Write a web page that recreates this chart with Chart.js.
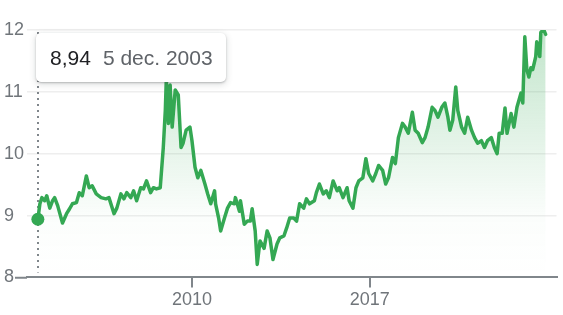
<!DOCTYPE html>
<html><head><meta charset="utf-8">
<script src="https://cdn.jsdelivr.net/npm/chart.js@4"></script>
<style>
html,body{margin:0;padding:0;background:#fff;}
#wrap{position:relative;width:563px;height:315px;}
#tip{position:absolute;left:36px;top:33px;width:190px;height:49px;background:#fff;border-radius:5px;
 box-shadow:0 1px 2px rgba(60,64,67,.3),0 2px 6px 1px rgba(60,64,67,.15);
 font-family:'Liberation Sans',Arial,sans-serif;font-size:21px;line-height:49px;padding-left:14px;box-sizing:border-box;white-space:nowrap;}
#tip .v{color:#202124;}
#tip .d{color:#5f6368;margin-left:12px;}
</style></head>
<body>
<div id="wrap"><canvas id="c" width="563" height="315"></canvas>
<div id="tip"><span class="v" id="tv"></span><span class="d" id="td"></span></div></div>
<script>
const years = [2003.93,2004.01,2004.09,2004.20,2004.28,2004.40,2004.51,2004.59,2004.71,2004.90,
2005.06,2005.18,2005.29,2005.45,2005.56,2005.68,2005.84,2005.95,2006.07,2006.23,
2006.42,2006.61,2006.73,2006.93,2007.04,2007.20,2007.32,2007.43,2007.59,2007.70,
2007.82,2007.98,2008.09,2008.21,2008.37,2008.48,2008.60,2008.75,2008.87,2008.95,
2008.99,2009.07,2009.14,2009.22,2009.34,2009.46,2009.57,2009.65,2009.77,2009.92,
2010.00,2010.12,2010.23,2010.35,2010.51,2010.62,2010.74,2010.89,2010.93,2011.05,
2011.13,2011.28,2011.40,2011.52,2011.67,2011.71,2011.87,2011.91,2012.06,2012.18,
2012.30,2012.37,2012.49,2012.57,2012.68,2012.84,2012.96,2013.07,2013.19,2013.35,
2013.46,2013.62,2013.73,2013.85,2014.01,2014.12,2014.24,2014.40,2014.51,2014.63,
2014.82,2014.90,2015.02,2015.17,2015.29,2015.41,2015.56,2015.72,2015.80,2015.95,
2016.11,2016.19,2016.34,2016.46,2016.57,2016.73,2016.85,2016.96,2017.12,2017.24,
2017.35,2017.51,2017.63,2017.74,2017.90,2018.01,2018.13,2018.29,2018.40,2018.52,
2018.68,2018.79,2018.91,2019.07,2019.18,2019.30,2019.46,2019.57,2019.69,2019.84,
2019.96,2020.08,2020.16,2020.27,2020.39,2020.47,2020.62,2020.74,2020.86,2021.01,
2021.13,2021.25,2021.40,2021.52,2021.64,2021.79,2021.91,2022.02,2022.10,2022.22,
2022.33,2022.41,2022.57,2022.68,2022.80,2022.96,2023.03,2023.11,2023.19,2023.27,
2023.35,2023.42,2023.54,2023.58,2023.70,2023.74,2023.85,2023.93];
const prices = [8.94,9.19,9.29,9.24,9.32,9.12,9.24,9.29,9.16,8.88,
9.03,9.11,9.19,9.21,9.37,9.32,9.64,9.45,9.48,9.35,
9.29,9.27,9.29,9.03,9.12,9.35,9.27,9.37,9.29,9.40,
9.24,9.45,9.43,9.56,9.37,9.45,9.43,9.45,10.10,10.70,
11.22,10.49,11.11,10.43,11.03,10.95,10.10,10.17,10.38,10.43,
10.21,9.78,9.61,9.73,9.51,9.35,9.19,9.40,9.19,8.96,
8.75,8.96,9.12,9.21,9.19,9.29,9.07,9.24,8.86,8.91,
8.91,9.11,8.75,8.21,8.59,8.47,8.75,8.64,8.29,8.54,
8.64,8.67,8.80,8.96,8.96,8.91,9.19,9.12,9.27,9.19,
9.24,9.37,9.51,9.35,9.40,9.29,9.56,9.40,9.45,9.29,
9.45,9.24,9.12,9.45,9.56,9.61,9.92,9.68,9.56,9.68,
9.81,9.73,9.51,9.61,9.94,9.84,10.26,10.49,10.43,10.33,
10.67,10.38,10.33,10.18,10.26,10.43,10.75,10.70,10.59,10.75,
10.82,10.59,10.38,10.54,11.08,10.70,10.43,10.33,10.59,10.38,
10.26,10.17,10.21,10.10,10.21,10.26,10.10,10.00,10.33,10.33,
10.74,10.33,10.65,10.43,10.75,10.98,10.82,11.89,11.36,11.24,
11.39,11.36,11.57,11.81,11.57,11.96,12.01,11.93];
const yTicks = [8,9,10,11,12];
const xTickYears = [2010,2017];
const tipDate = '5 dec. 2003';
const selIndex = 0;

document.getElementById('tv').textContent = prices[selIndex].toFixed(2).replace('.', ',');
document.getElementById('td').textContent = tipDate;

const green = '#34a853';
const axisGray = '#80868b';
const labelGray = '#70757a';

const markerPlugin = {
  id: 'marker',
  beforeDatasetsDraw(chart) {
    const {ctx, scales: {x}} = chart;
    const px = Math.round(x.getPixelForValue(years[selIndex]));
    ctx.save();
    ctx.strokeStyle = axisGray;
    ctx.lineWidth = 2;
    ctx.setLineDash([2, 4]);
    ctx.beginPath();
    ctx.moveTo(px, chart.chartArea.top + 2);
    ctx.lineTo(px, chart.chartArea.bottom - 5);
    ctx.stroke();
    ctx.restore();
  }
};

const ctx = document.getElementById('c').getContext('2d');
new Chart(ctx, {
  type: 'line',
  data: {
    datasets: [{
      data: years.map((y, i) => ({x: y, y: prices[i]})),
      borderColor: green,
      borderWidth: 3.5,
      borderJoinStyle: 'round',
      borderCapStyle: 'round',
      tension: 0,
      fill: 'origin',
      backgroundColor: (c) => {
        const a = c.chart.chartArea;
        if (!a) return 'rgba(52,168,83,0.1)';
        const g = c.chart.ctx.createLinearGradient(0, a.top, 0, a.bottom);
        g.addColorStop(0, 'rgba(52,168,83,0.30)');
        g.addColorStop(0.75, 'rgba(52,168,83,0.02)');
        g.addColorStop(1, 'rgba(52,168,83,0)');
        return g;
      },
      pointRadius: (c) => c.dataIndex === selIndex ? 6.5 : 0,
      pointBackgroundColor: green,
      pointBorderWidth: 0,
      pointHoverRadius: 0
    }]
  },
  options: {
    responsive: false,
    animation: false,
    events: [],
    layout: {padding: {left: 4, right: 0, top: 30, bottom: 2}},
    plugins: {legend: {display: false}, tooltip: {enabled: false}},
    scales: {
      x: {
        type: 'linear',
        min: 2003.502,
        max: 2024.358,
        afterBuildTicks: (s) => { s.ticks = xTickYears.map(v => ({value: v})); },
        border: {display: true, color: axisGray, width: 2},
        grid: {drawOnChartArea: false, drawTicks: true, tickLength: 10, color: axisGray, lineWidth: 2},
        ticks: {
          color: labelGray, padding: 2, maxRotation: 0,
          font: {family: "'Liberation Sans', Arial, sans-serif", size: 18},
          callback: (v) => String(v)
        }
      },
      y: {
        min: 8, max: 12,
        afterBuildTicks: (s) => { s.ticks = yTicks.map(v => ({value: v})); },
        afterFit: (s) => { s.width = 23; },
        border: {display: false},
        grid: {
          color: (c) => c.tick && c.tick.value === 8 ? 'rgba(0,0,0,0)' : '#eeeeee',
          lineWidth: 1.5,
          drawTicks: true,
          tickLength: 12,
          tickColor: (c) => c.tick && c.tick.value === 8 ? axisGray : 'rgba(0,0,0,0)',
          tickWidth: 2
        },
        ticks: {
          color: labelGray, crossAlign: 'far', padding: 0,
          font: {family: "'Liberation Sans', Arial, sans-serif", size: 18}
        }
      }
    }
  },
  plugins: [markerPlugin]
});
</script>
</body></html>
